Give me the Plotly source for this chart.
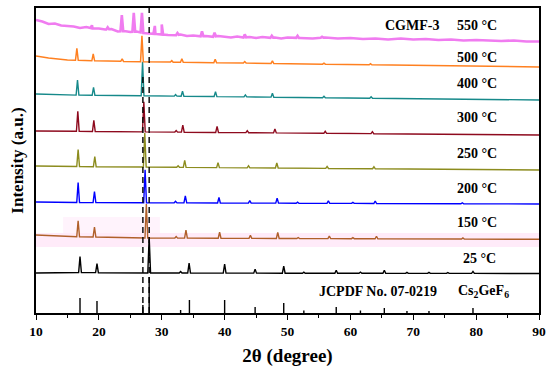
import numpy as np
import plotly.graph_objects as go

# ---------------- data ----------------
# reference pattern JCPDF No. 07-0219 (Cs2GeF6): positions and stick heights
ref_pos = [17.0, 19.7, 27.0, 28.0, 33.0, 34.4, 40.0, 44.85, 49.4, 52.6, 57.75, 61.6, 65.4, 69.0, 72.5, 79.5]
ref_h = [15, 12, 8, 36, 3, 13, 13, 6, 10, 2.5, 6, 2.5, 5, 2, 2, 5]

# each sample: baseline anchors (x, y) and peaks (position, height)
s25_base = [(10, 40), (16, 40.5), (27, 40), (90, 39.5)]
s25_peaks = [(17.0, 16), (19.7, 9), (28.0, 36), (33.0, 1.5), (34.35, 10), (40.0, 9), (44.85, 4),
             (49.4, 7), (52.6, 1), (57.75, 3), (61.6, 1.2), (65.4, 3), (69.0, 1), (72.5, 1),
             (75.5, 0.8), (79.5, 2)]

s150_base = [(10, 78), (15, 76.5), (27, 75), (90, 73.7)]
s150_peaks = [(16.7, 16), (19.3, 10), (27.55, 34), (32.3, 1.5), (33.85, 8), (39.2, 6), (44.1, 3),
              (48.45, 6), (51.7, 1), (56.65, 2.5), (60.4, 1), (64.15, 2.5), (77.9, 1.2)]

s200_base = [(10, 111), (15, 110.5), (90, 109)]
s200_peaks = [(16.7, 20), (19.3, 11), (27.35, 33), (32.2, 1.5), (33.75, 7), (39.1, 5.5), (44.0, 2.5),
              (48.35, 5), (51.6, 1), (56.5, 2.5), (60.4, 1), (63.95, 2.5), (77.8, 1)]

s250_base = [(10, 147), (15, 146.5), (90, 143)]
s250_peaks = [(16.7, 17), (19.35, 10), (27.3, 34), (32.6, 1.5), (33.65, 7), (38.95, 5), (43.8, 2),
              (48.3, 5), (56.3, 2), (63.75, 2)]

s300_base = [(10, 182), (90, 178)]
s300_peaks = [(16.65, 20), (19.2, 11), (27.15, 30), (32.3, 1.5), (33.35, 7), (38.8, 6), (43.6, 2),
              (48.0, 4), (56.0, 2), (63.5, 2)]

s400_base = [(10, 219), (15, 218), (90, 213)]
s400_peaks = [(16.6, 15), (19.15, 8), (26.95, 34), (32.2, 1.5), (33.3, 5), (38.55, 5), (43.3, 2),
              (47.6, 4), (55.8, 1.5), (63.3, 1.5)]

s500_base = [(10, 257), (12, 255), (15, 253), (20, 252), (30, 251), (90, 246)]
s500_peaks = [(16.5, 12), (19.1, 7), (23.7, 2.5), (26.85, 26), (31.6, 1.5), (33.2, 3.5), (38.5, 3.5),
              (43.2, 1.5), (47.6, 2.5), (55.8, 1), (63.2, 1)]

s550_base = [(10, 293), (11, 291.5), (12, 289), (13, 289.5), (14, 287.5), (15, 287), (16, 286.5),
             (17, 285), (18, 286), (19, 284.5), (20, 284.5), (21, 283.5), (22, 284), (23, 281.5),
             (24, 282), (25, 281), (26, 281.5), (27, 280), (28, 279.5), (29, 279), (30, 278.5),
             (31, 278), (32, 277.5), (33, 278.5), (34, 277), (35, 277.5), (36, 276.5), (37, 277),
             (38, 276), (39, 277), (40, 276), (41, 275.5), (42, 276.5), (43, 275.5), (44, 276),
             (45, 275), (46, 276), (47, 275), (48, 275.5), (49, 274.5), (50, 275.5), (52, 275),
             (54, 274.5), (56, 275.5), (58, 274.5), (60, 275), (62, 274), (64, 274.5), (66, 273.5),
             (68, 274.5), (70, 273.5), (72, 274), (74, 273), (76, 273.5), (78, 272.5), (80, 273),
             (82, 272.5), (84, 272), (86, 272.5), (88, 271.5), (90, 271.5)]
s550_peaks = [(18.9, 3), (21.4, 2), (23.65, 16), (25.55, 19), (26.85, 20), (28.9, 8), (30.0, 10),
              (32.5, 2), (36.4, 5), (38.4, 4), (43.2, 3), (47.5, 2), (51.6, 2), (55.5, 1)]

series_names = ["25 °C", "150 °C", "200 °C", "250 °C", "300 °C", "400 °C", "500 °C", "550 °C"]
series_base = [s25_base, s150_base, s200_base, s250_base, s300_base, s400_base, s500_base, s550_base]
series_peaks = [s25_peaks, s150_peaks, s200_peaks, s250_peaks, s300_peaks, s400_peaks, s500_peaks, s550_peaks]
series_colors = ["#000000", "#B0602A", "#0000FF", "#8C8C1E", "#8E0A1E", "#16898A", "#FF8020", "#F07CF0"]
series_widths = [1.4, 1.4, 1.4, 1.4, 1.4, 1.4, 1.5, 2.6]

# label positions (x in degrees, y in intensity units)
label_text = ["JCPDF No. 07-0219", "Cs<sub>2</sub>GeF<sub>6</sub>", "25 °C", "150 °C", "200 °C",
              "250 °C", "300 °C", "400 °C", "500 °C", "550 °C", "CGMF-3"]
label_x = [64.4, 81.2, 80.6, 80.1, 80.1, 80.1, 80.1, 80.1, 80.1, 80.1, 69.8]
label_y = [22, 22, 55, 91, 125, 160, 196, 230, 256, 288, 288]

dash_x = [27.0, 28.0]
dash_top = [238, 305]

x_ticks = [10, 20, 30, 40, 50, 60, 70, 80, 90]


def build(base, peaks, hw=0.22):
    bx = np.array([b[0] for b in base], dtype=float)
    by = np.array([b[1] for b in base], dtype=float)
    pts = [(b[0], b[1]) for b in base]
    for p, h in peaks:
        b0 = float(np.interp(p, bx, by))
        pts.append((p - hw, float(np.interp(p - hw, bx, by))))
        pts.append((p, b0 + h))
        pts.append((p + hw, float(np.interp(p + hw, bx, by))))
    pts.sort(key=lambda t: t[0])
    return [t[0] for t in pts], [t[1] for t in pts]


fig = go.Figure()

# faint pink highlight patches seen in the image
fig.add_shape(type="rect", xref="x", yref="y", x0=9.5, x1=90.6, y0=66, y1=80,
              fillcolor="rgba(255,190,235,0.3)", line_width=0, layer="below")
fig.add_shape(type="rect", xref="x", yref="y", x0=14.3, x1=29.7, y0=80, y1=96,
              fillcolor="rgba(255,200,240,0.22)", line_width=0, layer="below")

# reference sticks
sx, sy = [], []
for p, h in zip(ref_pos, ref_h):
    sx += [p, p, None]
    sy += [0, h, None]
fig.add_trace(go.Scatter(x=sx, y=sy, mode="lines", line=dict(color="#000000", width=1.4),
                         showlegend=False, hoverinfo="skip"))

for name, base, peaks, col, w in zip(series_names, series_base, series_peaks, series_colors, series_widths):
    x, y = build(base, peaks)
    fig.add_trace(go.Scatter(x=x, y=y, mode="lines", name=name,
                             line=dict(color=col, width=w), showlegend=False))

for dx, top in zip(dash_x, dash_top):
    fig.add_trace(go.Scatter(x=[dx, dx], y=[0, top], mode="lines",
                             line=dict(color="#000000", width=1.4, dash="6px,4px"),
                             showlegend=False, hoverinfo="skip"))

font_fam = "Liberation Serif, Times New Roman, serif"
for t, x, y in zip(label_text, label_x, label_y):
    fig.add_annotation(x=x, y=y, xref="x", yref="y", text="<b>" + t + "</b>", showarrow=False,
                       font=dict(family=font_fam, size=14, color="#000000"))

fig.update_layout(
    width=550, height=369,
    margin=dict(l=36, r=11, t=8, b=56),
    paper_bgcolor="white", plot_bgcolor="white",
    font=dict(family=font_fam, color="#000000"),
    showlegend=False,
)
fig.update_xaxes(range=[10, 90], tickvals=x_ticks, ticktext=["<b>%d</b>" % v for v in x_ticks],
                 ticks="outside", ticklen=5, tickwidth=1.3, tickcolor="#000",
                 minor=dict(dtick=5, tick0=10, ticks="outside", ticklen=3, tickwidth=1.2, tickcolor="#000"),
                 showline=True, linecolor="#000", linewidth=1.5, mirror=True,
                 showgrid=False, zeroline=False, automargin=False,
                 tickfont=dict(family=font_fam, size=13.5),
                 title=dict(text="<b>2θ (degree)</b>", font=dict(family=font_fam, size=19), standoff=11))
fig.update_yaxes(range=[0, 305], showticklabels=False, ticks="",
                 showline=True, linecolor="#000", linewidth=1.5, mirror=True,
                 showgrid=False, zeroline=False, automargin=False,
                 title=dict(text="<b>Intensity (a.u.)</b>", font=dict(family=font_fam, size=17), standoff=6))

fig.write_html("out.html", config={"displayModeBar": False},
               post_script="document.body.style.margin='0px';document.body.style.padding='0px';")
